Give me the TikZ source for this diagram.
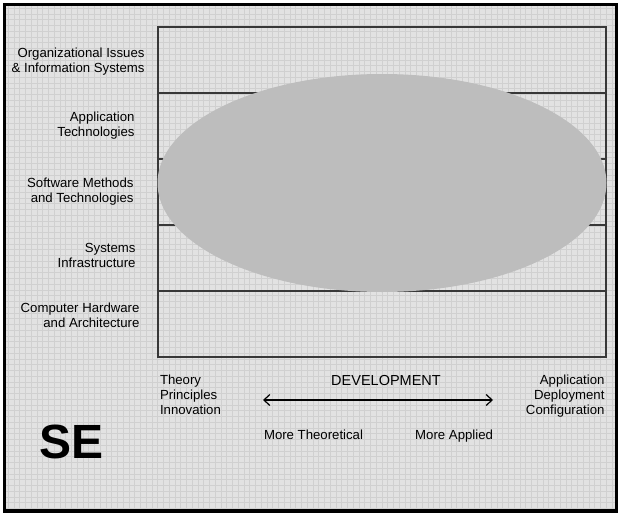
\documentclass[tikz,border=0pt]{standalone}
\usepackage{fontspec}
\setmainfont{Liberation Sans}
\usetikzlibrary{shapes.geometric,arrows.meta}
\definecolor{panelbg}{HTML}{E2E2E2}
\definecolor{gridln}{HTML}{D0D0D0}
\definecolor{blob}{HTML}{BDBDBD}
\definecolor{rule}{HTML}{383838}
\tikzset{
  lbl/.style={font=\fontsize{13.2}{15}\selectfont, inner sep=0pt, outer sep=0pt},
  rowlbl/.style={lbl, align=right, anchor=north east},
  band/.style={draw=rule, line width=1.3pt, minimum width=448pt, minimum height=66pt, inner sep=0pt},
  scale arrow/.style={line width=1.2pt, {Straight Barb[length=6pt,width=11pt]}-{Straight Barb[length=6pt,width=11pt]}},
}
\begin{document}
\begin{tikzpicture}[x=1pt,y=-1pt]
\useasboundingbox (0,0) rectangle (620,514);
\fill[white] (0,0) rectangle (620,514);
% gridded panel
\fill[panelbg] (5,5) rectangle (616,510);
\foreach \x in {8,13.75,...,616} \draw[gridln, line width=0.5pt] (\x,5) -- (\x,510);
\foreach \y in {8,13.75,...,510} \draw[gridln, line width=0.5pt] (5,\y) -- (616,\y);
\draw[line width=3.5pt] (4.5,4.5) rectangle (616.5,511);

% five layers
\node[band] (r1) at (382,60) {};
\node[band] (r2) at (382,126) {};
\node[band] (r3) at (382,192) {};
\node[band] (r4) at (382,258) {};
\node[band] (r5) at (382,324) {};

% coverage area
\node[ellipse, fill=blob, minimum width=449pt, minimum height=218pt, inner sep=0pt] (area) at (382,183) {};

% layer labels
\node[rowlbl] (l1) at (144.5,48.3) {Organizational Issues\\\& Information Systems};
\node[rowlbl] (l2) at (134.5,111.5) {Application\\Technologies};
\node[rowlbl] (l3) at (133.5,178.3) {Software Methods\\and Technologies};
\node[rowlbl] (l4) at (135.5,243.3) {Systems\\Infrastructure};
\node[rowlbl] (l5) at (139.5,302.7) {Computer Hardware\\and Architecture};

% horizontal scale
\node[lbl, align=left, anchor=north west] (theory) at (160,375) {Theory\\Principles\\Innovation};
\node[lbl, align=right, anchor=north east] (applied) at (604.5,375) {Application\\Deployment\\Configuration};
\node[lbl, font=\fontsize{14.5}{17}\selectfont, anchor=north] (dev) at (386,375) {DEVELOPMENT};
\coordinate (devL) at (263,400);
\coordinate (devR) at (493,400);
\draw[scale arrow] (devL) -- (devR);
\node[lbl, anchor=north west] (moreT) at (264,430) {More Theoretical};
\node[lbl, anchor=north east] (moreA) at (493,430) {More Applied};

\node[font=\fontsize{48}{50}\bfseries\selectfont, anchor=base west, inner sep=0pt] (se) at (39.5,458.3) {SE};
\end{tikzpicture}
\end{document}
